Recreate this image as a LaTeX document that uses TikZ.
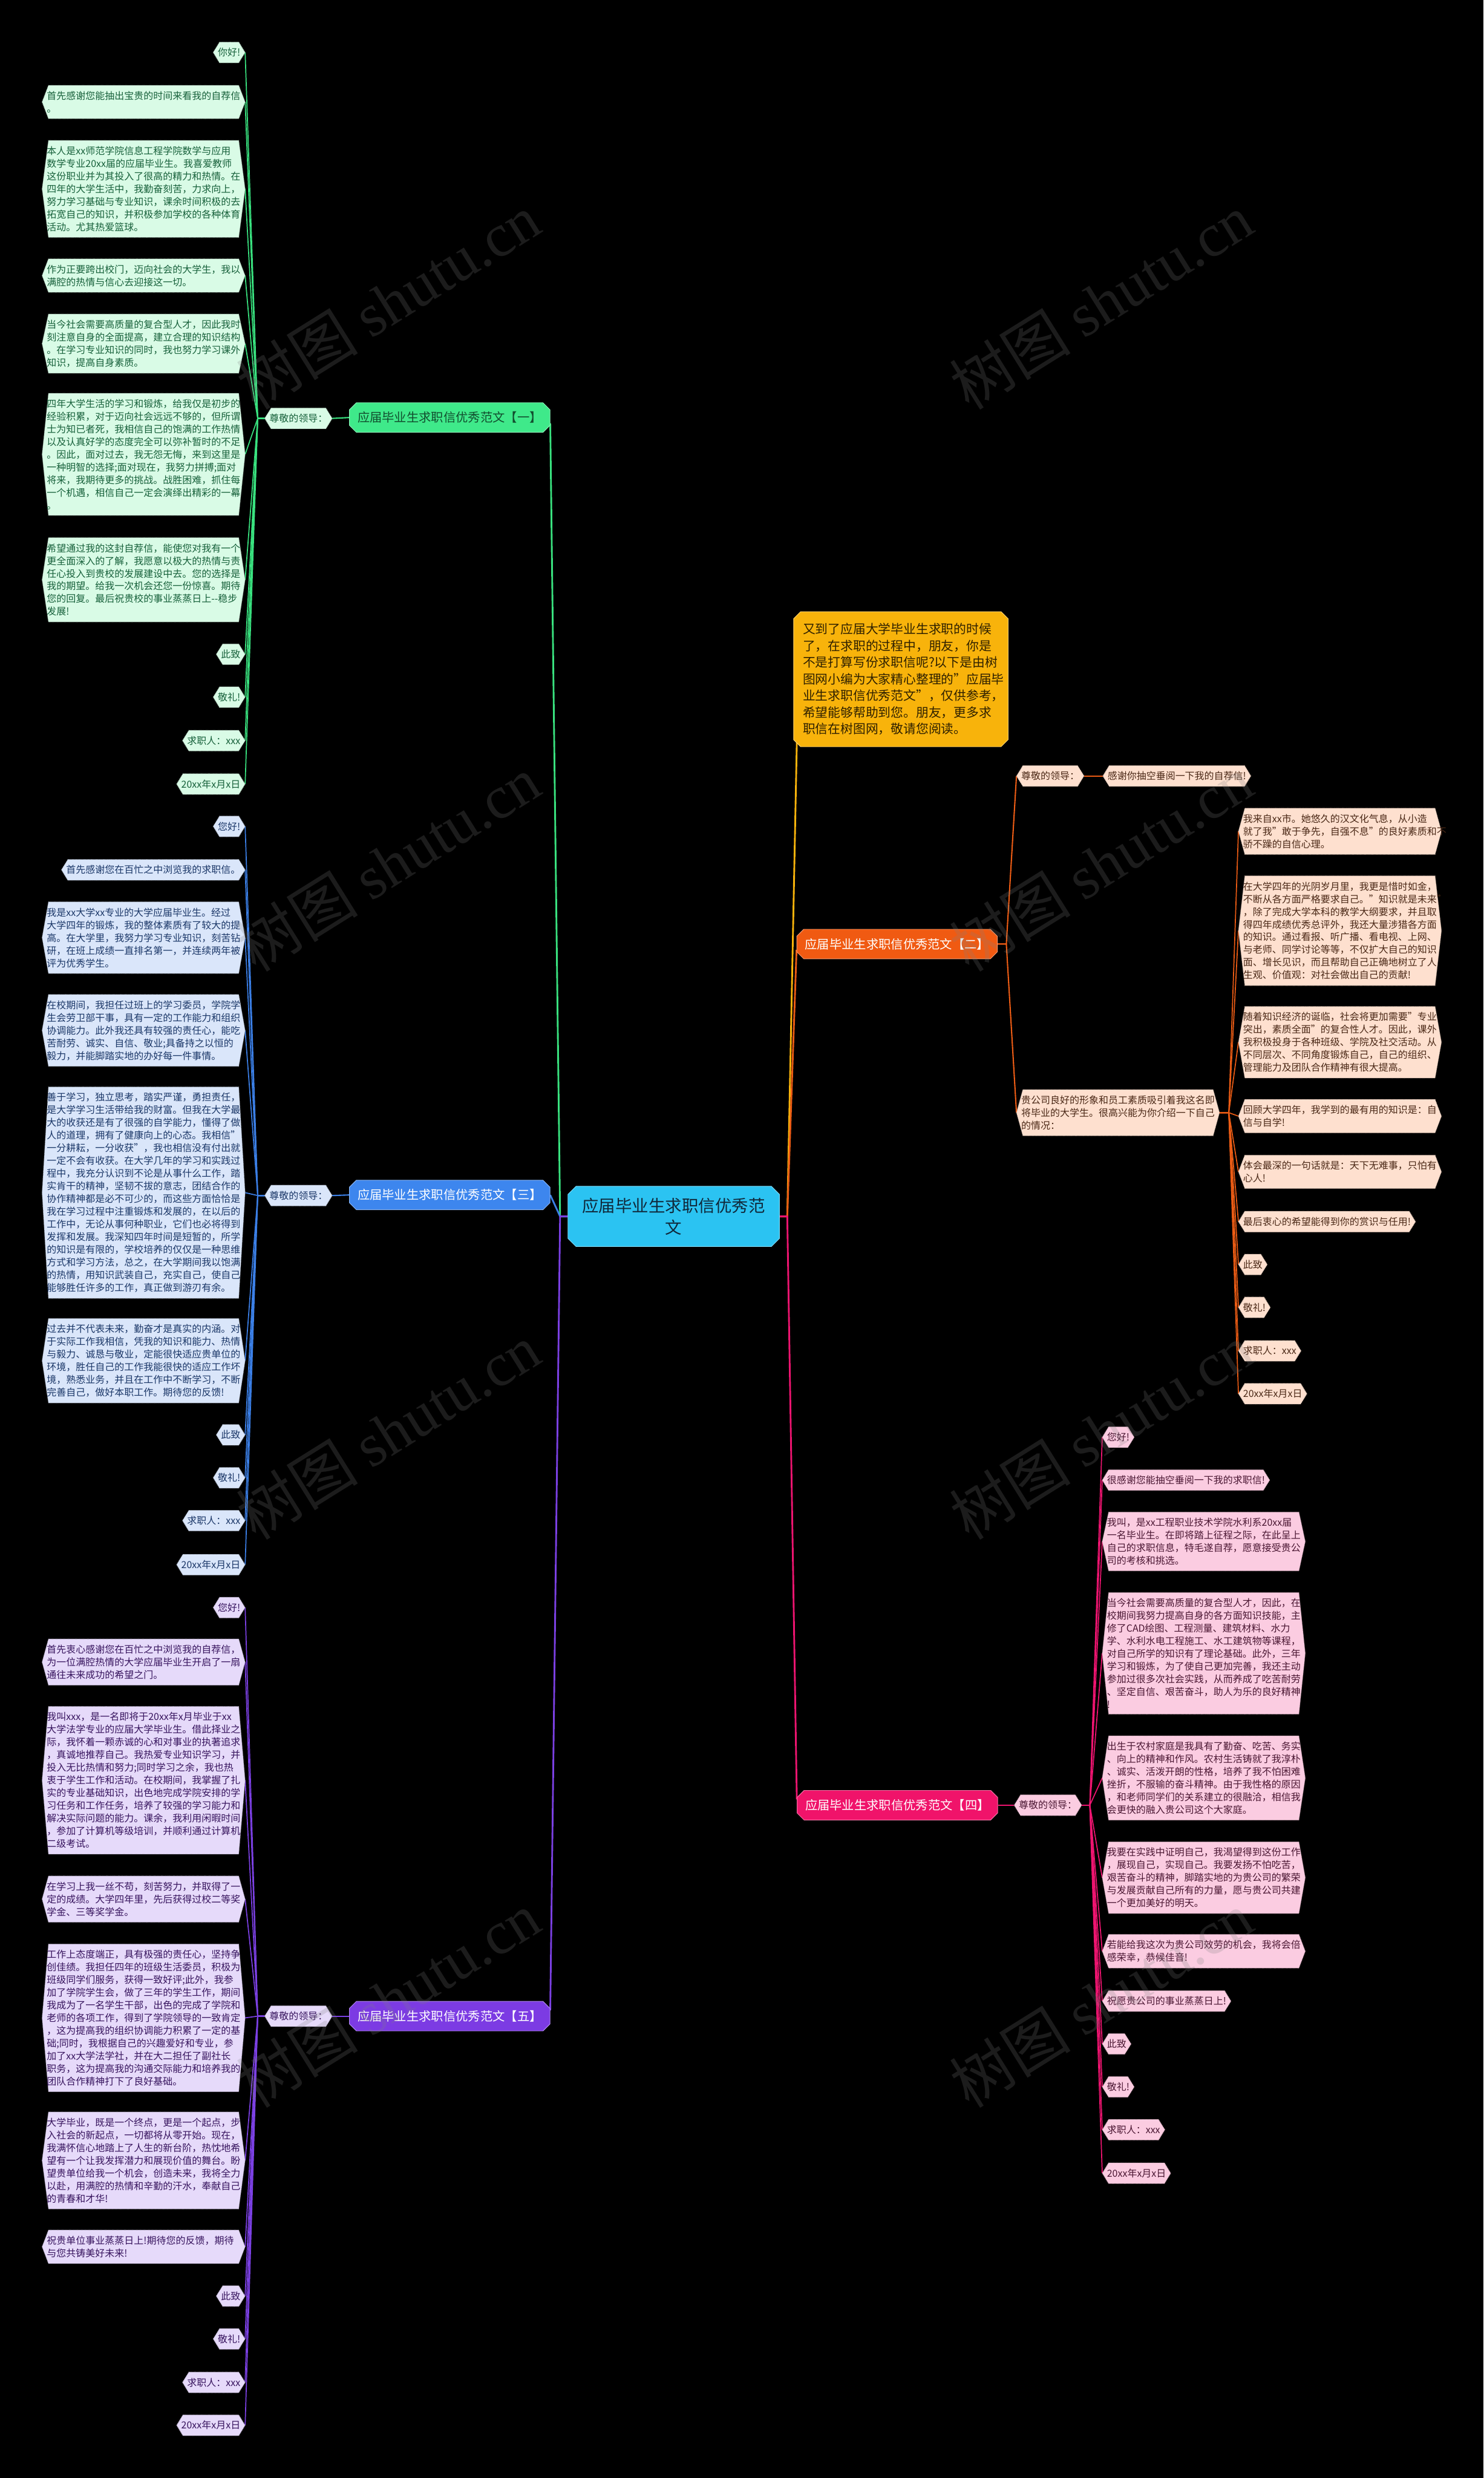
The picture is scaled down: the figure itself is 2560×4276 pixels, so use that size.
\documentclass[tikz,border=0pt]{standalone}
\usepackage{fontspec}
\setmainfont{Noto Sans CJK SC}
\newfontfamily\wmserif{Liberation Serif}
\usetikzlibrary{shapes.misc}
\pgfdeclarelayer{back}
\pgfdeclarelayer{lines}
\pgfdeclarelayer{bg}
\pgfsetlayers{back,lines,bg,main}
\definecolor{gBox}{HTML}{3FE98A}\definecolor{gLeaf}{HTML}{D9FBE6}\definecolor{gText}{HTML}{16603A}\definecolor{gLine}{HTML}{39E27F}
\definecolor{bBox}{HTML}{3D86EE}\definecolor{bLeaf}{HTML}{DAE6FA}\definecolor{bText}{HTML}{1B3768}\definecolor{bLine}{HTML}{3B7FE6}
\definecolor{pBox}{HTML}{7C3BE3}\definecolor{pLeaf}{HTML}{E6DAFA}\definecolor{pText}{HTML}{37145E}\definecolor{pLine}{HTML}{7B40E3}
\definecolor{oBox}{HTML}{F05A12}\definecolor{oLeaf}{HTML}{FEE0CF}\definecolor{oText}{HTML}{4A2816}\definecolor{oLine}{HTML}{EA5B14}
\definecolor{kBox}{HTML}{F0136A}\definecolor{kLeaf}{HTML}{FBCCE1}\definecolor{kText}{HTML}{4A1632}\definecolor{kLine}{HTML}{EE1470}
\definecolor{yBox}{HTML}{F8B30B}\definecolor{yText}{HTML}{2E2000}
\definecolor{cBox}{HTML}{2BC3F2}\definecolor{cText}{HTML}{10283A}
\newcommand\leaffont{\fontsize{16.7pt}{21.9pt}\selectfont}
\newcommand\hexnode[4]{%
  \node[leafbase,#1] (#2) at (#3) {#4};
  \begin{pgfonlayer}{bg}
    \path[fill=LF,draw=LD,densely dotted,line width=0.9pt] (#2.west) -- ([xshift=11pt]#2.north west) -- ([xshift=-11pt]#2.north east) -- (#2.east) -- ([xshift=-11pt]#2.south east) -- ([xshift=11pt]#2.south west) -- cycle;
  \end{pgfonlayer}}
\tikzset{
  leafbase/.style={shape=rectangle,inner xsep=8pt,inner ysep=10pt,font=\leaffont,text=LT},
  para/.style={text width=334pt,align=left},
  brbox/.style={chamfered rectangle,chamfered rectangle xsep=6pt,chamfered rectangle ysep=6pt,minimum width=346pt,minimum height=51pt,inner sep=0pt,font=\fontsize{21.2pt}{26pt}\selectfont,line width=1pt},
  wm/.style={rotate=32,text=white!50!black,text opacity=0.22,font=\fontsize{105pt}{110pt}\selectfont},
  mainline/.style={line width=3pt,line join=round},
  subline/.style={line width=2.2pt,line join=round},
  leafline/.style={line width=1.8pt,line join=round}
}
\begin{document}
\begin{tikzpicture}[x=1pt,y=-1pt]
\begin{pgfonlayer}{back}
\fill[black] (0,0) rectangle (2560,4276);
\end{pgfonlayer}
\useasboundingbox (0,0) rectangle (2560,4276);

% center and intro
\node[chamfered rectangle,chamfered rectangle xsep=7pt,chamfered rectangle ysep=7pt,fill=cBox,draw=cBox!60!white,line width=1pt,text=cText,align=center,minimum width=365pt,minimum height=104pt,font=\fontsize{28.7pt}{38pt}\selectfont] (ctr) at (1162.5,2099) {应届毕业生求职信优秀范\\文};
\node[chamfered rectangle,chamfered rectangle xsep=6pt,chamfered rectangle ysep=6pt,fill=yBox,draw=yBox!60!white,line width=1pt,text=yText,text width=338pt,align=left,inner xsep=10pt,inner ysep=14pt,font=\fontsize{21.7pt}{28.7pt}\selectfont] (intro) at (1554.5,1172) {又到了应届大学毕业生求职的时候\\了，在求职的过程中，朋友，你是\\不是打算写份求职信呢?以下是由树\\图网小编为大家精心整理的"应届毕\\业生求职信优秀范文"，仅供参考，\\希望能够帮助到您。朋友，更多求\\职信在树图网，敬请您阅读。};

% branch boxes
\node[brbox,fill=gBox,draw=gBox!60!white,text=gText!80!black] (b1) at (776,720.5) {应届毕业生求职信优秀范文【一】};
\node[brbox,fill=bBox,draw=bBox!60!white,text=white] (b3) at (776,2062) {应届毕业生求职信优秀范文【三】};
\node[brbox,fill=pBox,draw=pBox!60!white,text=white] (b5) at (776,3479) {应届毕业生求职信优秀范文【五】};
\node[brbox,fill=oBox,draw=oBox!60!white,text=white] (b2) at (1548,1629) {应届毕业生求职信优秀范文【二】};
\node[brbox,fill=kBox,draw=kBox!60!white,text=white] (b4) at (1548.5,3115) {应届毕业生求职信优秀范文【四】};

% ---------------- branch 1 ----------------
\colorlet{LF}{gLeaf}\colorlet{LD}{gLeaf!70!black}\colorlet{LT}{gText}
\hexnode{}{zj1}{515,722}{尊敬的领导：}
\hexnode{anchor=east}{a1}{423,90.5}{你好!}
\hexnode{anchor=east,para}{a2}{423,176}{首先感谢您能抽出宝贵的时间来看我的自荐信\\。}
\hexnode{anchor=east,para}{a3}{423,326}{本人是xx师范学院信息工程学院数学与应用\\数学专业20xx届的应届毕业生。我喜爱教师\\这份职业并为其投入了很高的精力和热情。在\\四年的大学生活中，我勤奋刻苦，力求向上，\\努力学习基础与专业知识，课余时间积极的去\\拓宽自己的知识，并积极参加学校的各种体育\\活动。尤其热爱篮球。}
\hexnode{anchor=east,para}{a4}{423,475.5}{作为正要跨出校门，迈向社会的大学生，我以\\满腔的热情与信心去迎接这一切。}
\hexnode{anchor=east,para}{a5}{423,593}{当今社会需要高质量的复合型人才，因此我时\\刻注意自身的全面提高，建立合理的知识结构\\。在学习专业知识的同时，我也努力学习课外\\知识，提高自身素质。}
\hexnode{anchor=east,para}{a6}{423,784}{四年大学生活的学习和锻炼，给我仅是初步的\\经验积累，对于迈向社会远远不够的，但所谓\\士为知已者死，我相信自己的饱满的工作热情\\以及认真好学的态度完全可以弥补暂时的不足\\。因此，面对过去，我无怨无悔，来到这里是\\一种明智的选择;面对现在，我努力拼搏;面对\\将来，我期待更多的挑战。战胜困难，抓住每\\一个机遇，相信自己一定会演绎出精彩的一幕\\。}
\hexnode{anchor=east,para}{a7}{423,1000.5}{希望通过我的这封自荐信，能使您对我有一个\\更全面深入的了解，我愿意以极大的热情与责\\任心投入到贵校的发展建设中去。您的选择是\\我的期望。给我一次机会还您一份惊喜。期待\\您的回复。最后祝贵校的事业蒸蒸日上-{}-稳步\\发展!}
\hexnode{anchor=east}{a8}{423,1129}{此致}
\hexnode{anchor=east}{a9}{423,1203}{敬礼!}
\hexnode{anchor=east}{a10}{423,1278}{求职人：xxx}
\hexnode{anchor=east}{a11}{423,1353}{20xx年x月x日}

% ---------------- branch 3 ----------------
\colorlet{LF}{bLeaf}\colorlet{LD}{bLeaf!70!black}\colorlet{LT}{bText}
\hexnode{}{zj3}{515,2063}{尊敬的领导：}
\hexnode{anchor=east}{c1}{423,1426}{您好!}
\hexnode{anchor=east}{c2}{423,1501}{首先感谢您在百忙之中浏览我的求职信。}
\hexnode{anchor=east,para}{c3}{423,1618}{我是xx大学xx专业的大学应届毕业生。经过\\大学四年的锻炼，我的整体素质有了较大的提\\高。在大学里，我努力学习专业知识，刻苦钻\\研，在班上成绩一直排名第一，并连续两年被\\评为优秀学生。}
\hexnode{anchor=east,para}{c4}{423,1778}{在校期间，我担任过班上的学习委员，学院学\\生会劳卫部干事，具有一定的工作能力和组织\\协调能力。此外我还具有较强的责任心，能吃\\苦耐劳、诚实、自信、敬业;具备持之以恒的\\毅力，并能脚踏实地的办好每一件事情。}
\hexnode{anchor=east,para}{c5}{423,2058}{善于学习，独立思考，踏实严谨，勇担责任，\\是大学学习生活带给我的财富。但我在大学最\\大的收获还是有了很强的自学能力，懂得了做\\人的道理，拥有了健康向上的心态。我相信"\\一分耕耘，一分收获"，我也相信没有付出就\\一定不会有收获。在大学几年的学习和实践过\\程中，我充分认识到不论是从事什么工作，踏\\实肯干的精神，坚韧不拔的意志，团结合作的\\协作精神都是必不可少的，而这些方面恰恰是\\我在学习过程中注重锻炼和发展的，在以后的\\工作中，无论从事何种职业，它们也必将得到\\发挥和发展。我深知四年时间是短暂的，所学\\的知识是有限的，学校培养的仅仅是一种思维\\方式和学习方法，总之，在大学期间我以饱满\\的热情，用知识武装自己，充实自己，使自己\\能够胜任许多的工作，真正做到游刃有余。}
\hexnode{anchor=east,para}{c6}{423,2348}{过去并不代表未来，勤奋才是真实的内涵。对\\于实际工作我相信，凭我的知识和能力、热情\\与毅力、诚恳与敬业，定能很快适应贵单位的\\环境，胜任自己的工作我能很快的适应工作坏\\境，熟悉业务，并且在工作中不断学习，不断\\完善自己，做好本职工作。期待您的反馈!}
\hexnode{anchor=east}{c7}{423,2476}{此致}
\hexnode{anchor=east}{c8}{423,2550}{敬礼!}
\hexnode{anchor=east}{c9}{423,2624}{求职人：xxx}
\hexnode{anchor=east}{c10}{423,2700}{20xx年x月x日}

% ---------------- branch 5 ----------------
\colorlet{LF}{pLeaf}\colorlet{LD}{pLeaf!70!black}\colorlet{LT}{pText}
\hexnode{}{zj5}{515,3479}{尊敬的领导：}
\hexnode{anchor=east}{e1}{423,2774}{您好!}
\hexnode{anchor=east,para}{e2}{423,2868}{首先衷心感谢您在百忙之中浏览我的自荐信，\\为一位满腔热情的大学应届毕业生开启了一扇\\通往未来成功的希望之门。}
\hexnode{anchor=east,para}{e3}{423,3072}{我叫xxx，是一名即将于20xx年x月毕业于xx\\大学法学专业的应届大学毕业生。借此择业之\\际，我怀着一颗赤诚的心和对事业的执著追求\\，真诚地推荐自己。我热爱专业知识学习，并\\投入无比热情和努力;同时学习之余，我也热\\衷于学生工作和活动。在校期间，我掌握了扎\\实的专业基础知识，出色地完成学院安排的学\\习任务和工作任务，培养了较强的学习能力和\\解决实际问题的能力。课余，我利用闲暇时间\\，参加了计算机等级培训，并顺利通过计算机\\二级考试。}
\hexnode{anchor=east,para}{e4}{423,3277}{在学习上我一丝不苟，刻苦努力，并取得了一\\定的成绩。大学四年里，先后获得过校二等奖\\学金、三等奖学金。}
\hexnode{anchor=east,para}{e5}{423,3482}{工作上态度端正，具有极强的责任心，坚持争\\创佳绩。我担任四年的班级生活委员，积极为\\班级同学们服务，获得一致好评;此外，我参\\加了学院学生会，做了三年的学生工作，期间\\我成为了一名学生干部，出色的完成了学院和\\老师的各项工作，得到了学院领导的一致肯定\\，这为提高我的组织协调能力积累了一定的基\\础;同时，我根据自己的兴趣爱好和专业，参\\加了xx大学法学社，并在大二担任了副社长\\职务，这为提高我的沟通交际能力和培养我的\\团队合作精神打下了良好基础。}
\hexnode{anchor=east,para}{e6}{423,3728}{大学毕业，既是一个终点，更是一个起点，步\\入社会的新起点，一切都将从零开始。现在，\\我满怀信心地踏上了人生的新台阶，热忱地希\\望有一个让我发挥潜力和展现价值的舞台。盼\\望贵单位给我一个机会，创造未来，我将全力\\以赴，用满腔的热情和辛勤的汗水，奉献自己\\的青春和才华!}
\hexnode{anchor=east,para}{e7}{423,3877}{祝贵单位事业蒸蒸日上!期待您的反馈，期待\\与您共铸美好未来!}
\hexnode{anchor=east}{e8}{423,3962}{此致}
\hexnode{anchor=east}{e9}{423,4036}{敬礼!}
\hexnode{anchor=east}{e10}{423,4111}{求职人：xxx}
\hexnode{anchor=east}{e11}{423,4185}{20xx年x月x日}

% ---------------- branch 2 ----------------
\colorlet{LF}{oLeaf}\colorlet{LD}{oLeaf!70!black}\colorlet{LT}{oText}
\hexnode{anchor=west}{zj2}{1754,1339}{尊敬的领导：}
\hexnode{anchor=west}{gx2}{1903,1339}{感谢你抽空垂阅一下我的自荐信!}
\hexnode{anchor=west,para}{gs}{1754,1920}{贵公司良好的形象和员工素质吸引着我这名即\\将毕业的大学生。很高兴能为你介绍一下自己\\的情况：}
\hexnode{anchor=west,para}{d1}{2137,1434.5}{我来自xx市。她悠久的汉文化气息，从小造\\就了我"敢于争先，自强不息"的良好素质和不\\骄不躁的自信心理。}
\hexnode{anchor=west,para}{d2}{2137,1606}{在大学四年的光阴岁月里，我更是惜时如金，\\不断从各方面严格要求自己。"知识就是未来"\\，除了完成大学本科的教学大纲要求，并且取\\得四年成绩优秀总评外，我还大量涉猎各方面\\的知识。通过看报、听广播、看电视、上网、\\与老师、同学讨论等等，不仅扩大自己的知识\\面、增长见识，而且帮助自己正确地树立了人\\生观、价值观：对社会做出自己的贡献!}
\hexnode{anchor=west,para}{d3}{2137,1798.5}{随着知识经济的诞临，社会将更加需要"专业\\突出，素质全面"的复合性人才。因此，课外\\我积极投身于各种班级、学院及社交活动。从\\不同层次、不同角度锻炼自己，自己的组织、\\管理能力及团队合作精神有很大提高。}
\hexnode{anchor=west,para}{d4}{2137,1926}{回顾大学四年，我学到的最有用的知识是：自\\信与自学!}
\hexnode{anchor=west,para}{d5}{2137,2022}{体会最深的一句话就是：天下无难事，只怕有\\心人!}
\hexnode{anchor=west}{d6}{2137,2108}{最后衷心的希望能得到你的赏识与任用!}
\hexnode{anchor=west}{d7}{2137,2182}{此致}
\hexnode{anchor=west}{d8}{2137,2256}{敬礼!}
\hexnode{anchor=west}{d9}{2137,2331}{求职人：xxx}
\hexnode{anchor=west}{d10}{2137,2405}{20xx年x月x日}

% ---------------- branch 4 ----------------
\colorlet{LF}{kLeaf}\colorlet{LD}{kLeaf!70!black}\colorlet{LT}{kText}
\hexnode{anchor=west}{zj4}{1750,3115}{尊敬的领导：}
\hexnode{anchor=west}{f1}{1902,2480}{您好!}
\hexnode{anchor=west}{f2}{1902,2554}{很感谢您能抽空垂阅一下我的求职信!}
\hexnode{anchor=west,para}{f3}{1902,2660}{我叫，是xx工程职业技术学院水利系20xx届\\一名毕业生。在即将踏上征程之际，在此呈上\\自己的求职信息，特毛遂自荐，愿意接受贵公\\司的考核和挑选。}
\hexnode{anchor=west,para}{f4}{1902,2853}{当今社会需要高质量的复合型人才，因此，在\\校期间我努力提高自身的各方面知识技能，主\\修了CAD绘图、工程测量、建筑材料、水力\\学、水利水电工程施工、水工建筑物等课程，\\对自己所学的知识有了理论基础。此外，三年\\学习和锻炼，为了使自己更加完善，我还主动\\参加过很多次社会实践，从而养成了吃苦耐劳\\、坚定自信、艰苦奋斗，助人为乐的良好精神\\!}
\hexnode{anchor=west,para}{f5}{1902,3068}{出生于农村家庭是我具有了勤奋、吃苦、务实\\、向上的精神和作风。农村生活铸就了我淳朴\\、诚实、活泼开朗的性格，培养了我不怕困难\\挫折，不服输的奋斗精神。由于我性格的原因\\，和老师同学们的关系建立的很融洽，相信我\\会更快的融入贵公司这个大家庭。}
\hexnode{anchor=west,para}{f6}{1902,3240}{我要在实践中证明自己，我渴望得到这份工作\\，展现自己，实现自己。我要发扬不怕吃苦，\\艰苦奋斗的精神，脚踏实地的为贵公司的繁荣\\与发展贡献自己所有的力量，愿与贵公司共建\\一个更加美好的明天。}
\hexnode{anchor=west,para}{f7}{1902,3367}{若能给我这次为贵公司效劳的机会，我将会倍\\感荣幸，恭候佳音!}
\hexnode{anchor=west}{f8}{1902,3453}{祝愿贵公司的事业蒸蒸日上!}
\hexnode{anchor=west}{f9}{1902,3527}{此致}
\hexnode{anchor=west}{f10}{1902,3601}{敬礼!}
\hexnode{anchor=west}{f11}{1902,3675}{求职人：xxx}
\hexnode{anchor=west}{f12}{1902,3750}{20xx年x月x日}

% ---------------- connectors ----------------
\begin{pgfonlayer}{lines}
\draw[mainline,gLine] (ctr.west) -- ++(-13,0) -- ([yshift=-10pt]b1.east);
\draw[mainline,bLine] (ctr.west) -- ++(-13,0) -- (b3.east);
\draw[mainline,pLine] (ctr.west) -- ++(-13,0) -- ([yshift=10pt]b5.east);
\draw[mainline,yBox] (ctr.east) -- ++(13,0) -- ([yshift=10pt]intro.south west);
\draw[mainline,oLine] (ctr.east) -- ++(13,0) -- ([yshift=-10pt]b2.west);
\draw[mainline,kLine] (ctr.east) -- ++(13,0) -- ([yshift=10pt]b4.west);
\draw[subline,gLine] (b1.west) -- (zj1.east);
\draw[subline,bLine] (b3.west) -- (zj3.east);
\draw[subline,pLine] (b5.west) -- (zj5.east);
\draw[subline,kLine] (b4.east) -- (zj4.west);
\draw[subline,oLine] (b2.east) -- ++(15,0) -- (zj2.west);
\draw[subline,oLine] (b2.east) -- ++(15,0) -- (gs.west);
\draw[leafline,oLine] (zj2.east) -- (gx2.west);
\foreach \n in {a1,a2,a3,a4,a5,a6,a7,a8,a9,a10,a11}
  \draw[leafline,gLine] (zj1.west) -- ++(-12,0) -- (\n.east);
\foreach \n in {c1,c2,c3,c4,c5,c6,c7,c8,c9,c10}
  \draw[leafline,bLine] (zj3.west) -- ++(-12,0) -- (\n.east);
\foreach \n in {e1,e2,e3,e4,e5,e6,e7,e8,e9,e10,e11}
  \draw[leafline,pLine] (zj5.west) -- ++(-12,0) -- (\n.east);
\foreach \n in {d1,d2,d3,d4,d5,d6,d7,d8,d9,d10}
  \draw[leafline,oLine] (gs.east) -- ++(16,0) -- (\n.west);
\foreach \n in {f1,f2,f3,f4,f5,f6,f7,f8,f9,f10,f11,f12}
  \draw[leafline,kLine] (zj4.east) -- ++(14,0) -- (\n.west);
\end{pgfonlayer}

% ---------------- watermarks ----------------
\foreach \wx in {670,1900}
  \foreach \wy in {520,1490,2470,3450}
    \node[wm] (w\wx-\wy) at (\wx,\wy) {树图 {\wmserif shutu.cn}};
\end{tikzpicture}
\end{document}
